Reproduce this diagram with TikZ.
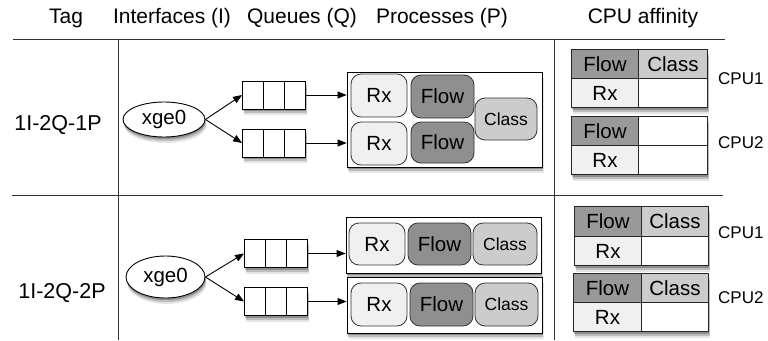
\documentclass[tikz,border=0pt]{standalone}
\usepackage{fontspec}
\setmainfont{Liberation Sans}
\usetikzlibrary{shapes.geometric,arrows.meta,shadows}
\definecolor{rxc}{gray}{0.94}
\definecolor{flowc}{gray}{0.56}
\definecolor{classc}{gray}{0.80}
\definecolor{flowt}{gray}{0.60}
\definecolor{linec}{gray}{0.2}
\begin{document}
\begin{tikzpicture}[x=1pt,y=-1pt,
  softshadow/.style={
    general shadow={shadow xshift=0.5pt,shadow yshift=-2pt,fill=black,opacity=0.25},
    general shadow={shadow xshift=1pt,shadow yshift=-4pt,fill=black,opacity=0.18},
    general shadow={shadow xshift=1.5pt,shadow yshift=-6pt,fill=black,opacity=0.10}},
  hdr/.style={font=\fontsize{21}{21}\selectfont, inner sep=0pt},
  tagtxt/.style={font=\fontsize{21.5}{21.5}\selectfont, inner sep=0pt},
  iface/.style={ellipse, draw=black, line width=0.9pt, fill=white, inner sep=0pt,
    font=\fontsize{20.5}{20.5}\selectfont, softshadow},
  queue/.style={draw=black, line width=0.9pt, fill=white, minimum width=63pt,
    minimum height=28pt, inner sep=0pt, softshadow,
    path picture={
      \draw[line width=0.9pt] ([xshift=-10.5pt]path picture bounding box.north) -- ([xshift=-10.5pt]path picture bounding box.south);
      \draw[line width=0.9pt] ([xshift=10.5pt]path picture bounding box.north) -- ([xshift=10.5pt]path picture bounding box.south);}},
  pbox/.style={draw=black, line width=0.9pt, fill=white, inner sep=0pt, softshadow},
  proc/.style={draw=black!80, line width=0.8pt, rounded corners=10pt, inner sep=0pt,
    font=\fontsize{20.5}{20.5}\selectfont},
  rx/.style={proc, fill=rxc, minimum width=56pt, minimum height=43pt},
  flow/.style={proc, fill=flowc, minimum width=63pt, minimum height=43pt},
  cls/.style={proc, fill=classc, minimum width=62pt, minimum height=42pt,
    font=\fontsize{17.5}{17.5}\selectfont},
  tab/.style={draw=black, line width=1.1pt, fill=white, inner sep=0pt, softshadow},
  cell/.style={draw=black!85, line width=1pt, inner sep=0pt, anchor=north west,
    font=\fontsize{20.5}{20.5}\selectfont},
  cpu/.style={font=\fontsize{17}{17}\selectfont, inner sep=0pt, anchor=west},
  arr/.style={-{Triangle[length=9pt,width=7pt]}, line width=0.9pt, black},
  sep/.style={line width=1pt, linec}
]
\useasboundingbox (0,0) rectangle (768,340);

% header
\node[hdr] (hTag) at (66,18) {Tag};
\node[hdr] (hIf) at (172,18) {Interfaces (I)};
\node[hdr] (hQ) at (302,18) {Queues (Q)};
\node[hdr] (hP) at (442,18) {Processes (P)};
\node[hdr] (hC) at (643,18) {CPU affinity};

% grid lines
\coordinate (l1a) at (13,39); \coordinate (l1b) at (725,39);
\coordinate (l2a) at (12,195); \coordinate (l2b) at (723,195);
\coordinate (v1a) at (118,39); \coordinate (v1b) at (118,340);
\coordinate (v2a) at (554,39); \coordinate (v2b) at (554,340);
\draw[sep] (l1a) -- (l1b);
\draw[sep] (l2a) -- (l2b);
\draw[sep] (v1a) -- (v1b);
\draw[sep] (v2a) -- (v2b);

% ===== row 1 =====
\node[tagtxt] (tag1) at (58,125) {1I-2Q-1P};
\node[iface, minimum width=82pt, minimum height=35pt] (if1) at (164,119.5) {xge0};
\node[queue] (q1a) at (274,95) {};
\node[queue] (q1b) at (274,143) {};
\node[pbox, minimum width=195pt, minimum height=95pt] (p1) at (444.5,119.5) {};
\node[rx] (rx1a) at (379,95.5) {Rx};
\node[rx] (rx1b) at (379,143.5) {Rx};
\node[flow] (fl1a) at (442.5,96.5) {Flow};
\node[flow, minimum height=41pt] (fl1b) at (442.5,142.5) {Flow};
\node[cls] (cl1) at (506,119) {Class};
\draw[arr] (if1.east) -- (q1a.west);
\draw[arr] (if1.east) -- (q1b.west);
\draw[arr] (q1a.east) -- (q1a.east -| p1.west);
\draw[arr] (q1b.east) -- (q1b.east -| p1.west);

% CPU tables row 1
\node[tab, minimum width=136pt, minimum height=58pt, anchor=north west] (t1) at (571,49) {};
\node[cell, fill=flowt, minimum width=67pt, minimum height=29pt] (t1a) at (571,49) {Flow};
\node[cell, fill=classc, minimum width=69pt, minimum height=29pt] (t1b) at (638,49) {Class};
\node[cell, fill=rxc, minimum width=67pt, minimum height=29pt] (t1c) at (571,78) {Rx};
\node[cell, fill=white, minimum width=69pt, minimum height=29pt] (t1d) at (638,78) {};
\node[tab, minimum width=136pt, minimum height=58pt, anchor=north west] (t2) at (571,116) {};
\node[cell, fill=flowt, minimum width=67pt, minimum height=29pt] (t2a) at (571,116) {Flow};
\node[cell, fill=white, minimum width=69pt, minimum height=29pt] (t2b) at (638,116) {};
\node[cell, fill=rxc, minimum width=67pt, minimum height=29pt] (t2c) at (571,145) {Rx};
\node[cell, fill=white, minimum width=69pt, minimum height=29pt] (t2d) at (638,145) {};
\node[cpu] (c1) at (718,79) {CPU1};
\node[cpu] (c2) at (718,143) {CPU2};

% ===== row 2 =====
\node[tagtxt] (tag2) at (62,293) {1I-2Q-2P};
\node[iface, minimum width=79pt, minimum height=42pt] (if2) at (165.5,277) {xge0};
\node[queue] (q2a) at (276,253.5) {};
\node[queue] (q2b) at (276,301.5) {};
\node[pbox, minimum width=195pt, minimum height=56pt] (p2a) at (443.5,245) {};
\node[pbox, minimum width=195pt, minimum height=56pt] (p2b) at (444.5,305) {};
\node[rx, minimum height=42pt] (rx2a) at (377,244) {Rx};
\node[flow, minimum height=42pt] (fl2a) at (439.5,244) {Flow};
\node[cls, minimum width=64pt] (cl2a) at (505,244) {Class};
\node[rx] (rx2b) at (379,304.5) {Rx};
\node[flow] (fl2b) at (441.5,304.5) {Flow};
\node[cls, minimum width=63pt, minimum height=43pt] (cl2b) at (506.5,304.5) {Class};
\draw[arr] (if2.east) -- (q2a.west);
\draw[arr] (if2.east) -- (q2b.west);
\draw[arr] (q2a.east) -- (q2a.east -| p2a.west);
\draw[arr] (q2b.east) -- (q2b.east -| p2b.west);

% CPU tables row 2
\node[tab, minimum width=134pt, minimum height=59pt, anchor=north west] (t3) at (574,206) {};
\node[cell, fill=flowt, minimum width=67pt, minimum height=30pt] (t3a) at (574,206) {Flow};
\node[cell, fill=classc, minimum width=67pt, minimum height=30pt] (t3b) at (641,206) {Class};
\node[cell, fill=rxc, minimum width=67pt, minimum height=29pt] (t3c) at (574,236) {Rx};
\node[cell, fill=white, minimum width=67pt, minimum height=29pt] (t3d) at (641,236) {};
\node[tab, minimum width=135pt, minimum height=58pt, anchor=north west] (t4) at (573,273) {};
\node[cell, fill=flowt, minimum width=68pt, minimum height=29pt] (t4a) at (573,273) {Flow};
\node[cell, fill=classc, minimum width=67pt, minimum height=29pt] (t4b) at (641,273) {Class};
\node[cell, fill=rxc, minimum width=68pt, minimum height=29pt] (t4c) at (573,302) {Rx};
\node[cell, fill=white, minimum width=67pt, minimum height=29pt] (t4d) at (641,302) {};
\node[cpu] (c3) at (718,233) {CPU1};
\node[cpu] (c4) at (718,298) {CPU2};
\end{tikzpicture}
\end{document}
